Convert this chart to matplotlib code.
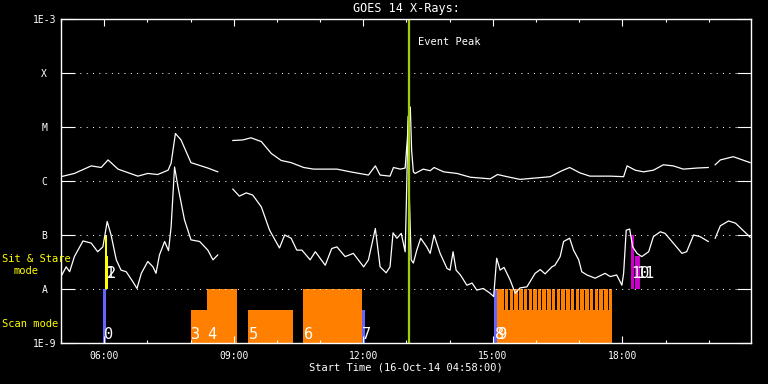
import numpy as np
import matplotlib
matplotlib.use("Agg")
import matplotlib.pyplot as plt
from matplotlib.ticker import FixedLocator, NullLocator

plt.rcParams['font.family'] = ['DejaVu Sans Mono', 'DejaVu Sans']

nan = np.nan

# GOES 14 long channel (1-8 A), time in hours of 16-Oct-14, log10 flux
long_t = [5.00, 5.31, 5.70, 5.93, 6.09, 6.32, 6.78, 7.01, 7.24, 7.48, 7.55, 7.65,
          7.78, 8.01, 8.40, 8.63, 8.80, 8.98, 9.21, 9.40, 9.64, 9.87, 10.10, 10.33,
          10.62, 10.85, 11.39, 11.70, 12.12, 12.28, 12.39, 12.62, 12.70, 12.86, 12.97,
          13.02, 13.05, 13.09, 13.12, 13.16, 13.20, 13.39, 13.55, 13.64, 13.86, 14.17,
          14.48, 14.94, 15.11, 15.33, 15.63, 16.33, 16.60, 16.78, 17.02, 17.25, 17.72,
          18.03, 18.11, 18.30, 18.49, 18.72, 18.95, 19.18, 19.41, 19.73, 19.99, 20.07,
          20.15, 20.27, 20.57, 20.96]
long_log = [-5.92, -5.86, -5.72, -5.75, -5.61, -5.78, -5.91, -5.86, -5.88, -5.80, -5.67, -5.12,
            -5.24, -5.66, -5.76, -5.83, nan, -5.25, -5.24, -5.20, -5.27, -5.49, -5.62, -5.66,
            -5.75, -5.78, -5.78, -5.83, -5.89, -5.72, -5.89, -5.91, -5.75, -5.78, -5.76,
            -5.24, -4.78, -4.63, -5.43, -5.83, -5.86, -5.78, -5.81, -5.75, -5.83, -5.86,
            -5.93, -5.96, -5.88, -5.92, -5.97, -5.92, -5.81, -5.75, -5.85, -5.91, -5.91,
            -5.92, -5.72, -5.80, -5.83, -5.80, -5.70, -5.72, -5.78, -5.76, -5.75, nan,
            -5.70, -5.61, -5.55, -5.66]

# short channel (0.5-4 A)
short_t = [5.00, 5.12, 5.20, 5.31, 5.51, 5.70, 5.85, 5.97, 6.07, 6.16, 6.28, 6.39,
           6.51, 6.66, 6.76, 6.86, 7.01, 7.13, 7.20, 7.28, 7.40, 7.49, 7.55, 7.63,
           7.71, 7.86, 8.01, 8.21, 8.40, 8.52, 8.63, 8.80, 8.98, 9.13, 9.29, 9.44,
           9.64, 9.83, 10.06, 10.18, 10.33, 10.46, 10.58, 10.77, 10.89, 11.12, 11.27, 11.39,
           11.58, 11.77, 12.01, 12.12, 12.28, 12.39, 12.53, 12.62, 12.69, 12.78, 12.88, 12.97,
           13.00, 13.04, 13.07, 13.11, 13.16, 13.24, 13.33, 13.47, 13.55, 13.64, 13.78, 13.94,
           14.01, 14.08, 14.15, 14.25, 14.40, 14.52, 14.63, 14.78, 14.94, 15.02, 15.09, 15.17,
           15.26, 15.40, 15.52, 15.63, 15.79, 15.98, 16.10, 16.21, 16.37, 16.44, 16.56, 16.64,
           16.78, 16.87, 16.99, 17.06, 17.18, 17.37, 17.60, 17.72, 17.87, 17.99, 18.03, 18.09,
           18.17, 18.24, 18.34, 18.45, 18.61, 18.72, 18.88, 18.99, 19.18, 19.38, 19.49, 19.65,
           19.80, 19.99, 20.07, 20.15, 20.27, 20.46, 20.62, 20.96]
short_log = [-7.77, -7.59, -7.68, -7.40, -7.11, -7.15, -7.31, -7.22, -6.75, -7.00, -7.46, -7.65,
             -7.68, -7.86, -7.99, -7.71, -7.49, -7.59, -7.71, -7.37, -7.12, -7.29, -6.85, -5.74,
             -6.11, -6.72, -7.09, -7.12, -7.28, -7.46, -7.37, nan, -6.15, -6.28, -6.22, -6.26,
             -6.48, -6.91, -7.24, -7.00, -7.06, -7.28, -7.28, -7.46, -7.31, -7.56, -7.25, -7.22,
             -7.40, -7.34, -7.59, -7.46, -6.88, -7.59, -7.70, -7.59, -6.96, -7.06, -6.97, -7.31,
             -6.35, -4.80, -6.35, -7.46, -7.52, -7.28, -7.06, -7.22, -7.34, -7.00, -7.34, -7.62,
             -7.65, -7.31, -7.65, -7.74, -7.93, -7.89, -8.02, -7.99, -8.08, -8.14, -7.43, -7.65,
             -7.60, -7.83, -8.08, -7.98, -7.96, -7.71, -7.64, -7.72, -7.59, -7.56, -7.40, -7.12,
             -7.06, -7.28, -7.46, -7.68, -7.74, -7.80, -7.71, -7.77, -7.74, -7.93, -7.71, -6.91,
             -6.89, -7.22, -7.34, -7.40, -7.31, -7.03, -6.94, -6.97, -7.15, -7.34, -7.31, -7.00,
             -7.03, -7.12, nan, -7.06, -6.83, -6.74, -6.78, -7.04]

# scan mode observations
scan_labels = ['0', '3', '4', '5', '6', '7', '8', '9']
scan_start = [5.98, 8.01, 8.38, 9.34, 10.61, 11.97, 15.03, 15.10]
scan_end = [6.04, 8.38, 9.07, 10.37, 11.97, 12.05, 15.09, 17.77]
scan_frac = [1.0, 0.61, 1.0, 0.61, 1.0, 0.61, 1.0, 0.61]
scan_color = ['#6464ff', '#ff8000', '#ff8000', '#ff8000', '#ff8000', '#6464ff', '#6464ff', '#ff8000']

# raster steps of observation 9
raster_start = [15.10, 15.17, 15.28, 15.39, 15.50, 15.61, 15.72, 15.83, 15.94, 16.04,
                16.15, 16.26, 16.37, 16.48, 16.59, 16.70, 16.81, 16.92, 17.03, 17.14,
                17.25, 17.36, 17.47, 17.58, 17.68]
raster_len = 0.08

# sit & stare observations
sit_labels = ['1', '2', '10', '11']
sit_start = [6.01, 6.06, 18.20, 18.30]
sit_end = [6.06, 6.085, 18.28, 18.40]
sit_frac = [1.0, 0.61, 1.0, 0.61]
sit_color = ['#ffff00', '#ffff00', '#cc00cc', '#cc00cc']

peak_t = 13.06

fig = plt.figure(figsize=(7.68, 3.84), dpi=100, facecolor='black')
ax = fig.add_axes([61 / 768, 41 / 384, 690 / 768, 324 / 384])
ax.set_facecolor('black')

band = 1 / 6
for s, e, f, c in zip(scan_start, scan_end, scan_frac, scan_color):
    ax.axvspan(s, e, ymin=0, ymax=band * f, color=c, lw=0)
for s in raster_start:
    ax.axvspan(s, s + raster_len, ymin=0, ymax=band, color='#ff8000', lw=0)
for s, e, f, c in zip(sit_start, sit_end, sit_frac, sit_color):
    ax.axvspan(s, e, ymin=band, ymax=band + band * f, color=c, lw=0)

xt = ax.get_xaxis_transform()
for s, lab in zip(scan_start, scan_labels):
    ax.text(s + 0.01, 0.012, lab, transform=xt, color='white', fontsize=11,
            va='baseline', ha='left')
for s, lab in zip(sit_start, sit_labels):
    ax.text(s + 0.01, 0.2, lab, transform=xt, color='white', fontsize=11,
            va='baseline', ha='left')

ax.plot(long_t, 10 ** np.array(long_log), color='white', lw=0.9)
ax.plot(short_t, 10 ** np.array(short_log), color='white', lw=0.9)

ax.axvline(peak_t, color='#a0d000', lw=1.6)
ax.text(peak_t + 0.21, 0.929, 'Event Peak', transform=xt, color='white',
        fontsize=7.5, va='center', ha='left')

ax.set_yscale('log')
ax.set_ylim(1e-9, 1e-3)
ax.set_xlim(5.0, 20.98)
ax.set_yticks([1e-9, 1e-8, 1e-7, 1e-6, 1e-5, 1e-4, 1e-3])
ax.set_yticklabels(['1E-9', 'A', 'B', 'C', 'M', 'X', '1E-3'])
ax.yaxis.set_minor_locator(NullLocator())
for lab in ax.get_yticklabels():
    lab.set_horizontalalignment('center')

ax.xaxis.set_major_locator(FixedLocator([6, 9, 12, 15, 18]))
ax.set_xticklabels(['06:00', '09:00', '12:00', '15:00', '18:00'])
ax.xaxis.set_minor_locator(FixedLocator(list(range(5, 22))))

ax.tick_params(axis='y', which='major', direction='in', length=10, width=0.8,
               colors='white', left=True, right=True, pad=12, labelsize=7)
ax.tick_params(axis='x', which='major', direction='in', length=5, width=0.8,
               colors='white', top=True, bottom=True, pad=6, labelsize=7)
ax.tick_params(axis='x', which='minor', direction='in', length=2.5, width=0.8,
               colors='white', top=True, bottom=True)

ax.grid(True, axis='y', which='major', color='white', lw=0.72, linestyle=(0, (1, 5.3)))

for sp in ax.spines.values():
    sp.set_color('white')
    sp.set_linewidth(1.0)

fig.text(406 / 768, 1 - 8.5 / 384, 'GOES 14 X-Rays:', color='white', fontsize=8.5,
         ha='center', va='center')
fig.text(406 / 768, 1 - 368 / 384, 'Start Time (16-Oct-14 04:58:00)', color='white',
         fontsize=7.5, ha='center', va='center')
fig.text(2 / 768, 1 - 259 / 384, 'Sit & Stare', color='#ffff00', fontsize=7.5,
         ha='left', va='center')
fig.text(13 / 768, 1 - 271 / 384, 'mode', color='#ffff00', fontsize=7.5,
         ha='left', va='center')
fig.text(2 / 768, 1 - 324 / 384, 'Scan mode', color='#ffff00', fontsize=7.5,
         ha='left', va='center')

fig.savefig('out.png', dpi=100, facecolor='black')
